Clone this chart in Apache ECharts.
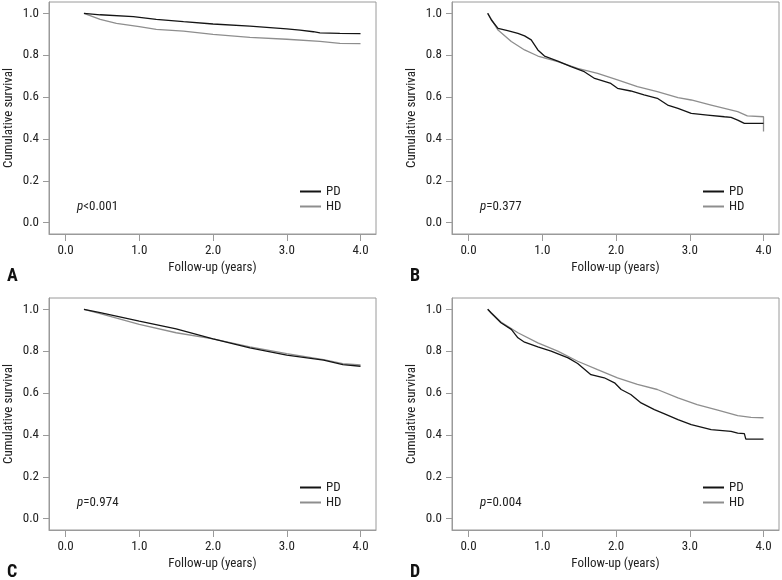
<!DOCTYPE html>
<html>
<head>
<meta charset="utf-8">
<script src="https://cdn.jsdelivr.net/npm/echarts@6/dist/echarts.min.js"></script>
<style>
html,body{margin:0;padding:0;background:#fff;}
#chart{width:782px;height:580px;}
</style>
</head>
<body>
<div id="chart"></div>
<script>
// ---------- data ----------
var yTicks = [0, 0.2, 0.4, 0.6, 0.8, 1.0];
var xTicks = [0, 1, 2, 3, 4];
var groups = ['PD', 'HD'];
var panelLetters = ['A', 'B', 'C', 'D'];
var pTexts = ['<0.001', '=0.377', '=0.974', '=0.004'];

// Panel A
var aPdTime = [0.25, 0.47, 0.92, 1.23, 1.6, 2.0, 2.5, 3.0, 3.18, 3.36, 3.45, 3.72, 4.0];
var aPdSurv = [1.0, 0.993, 0.984, 0.971, 0.96, 0.949, 0.939, 0.926, 0.92, 0.912, 0.907, 0.904, 0.903];
var aHdTime = [0.25, 0.47, 0.69, 1.0, 1.23, 1.6, 2.0, 2.5, 3.0, 3.45, 3.72, 4.0];
var aHdSurv = [1.0, 0.971, 0.952, 0.936, 0.923, 0.915, 0.899, 0.885, 0.876, 0.866, 0.856, 0.855];

// Panel B
var bPdTime = [0.26, 0.31, 0.40, 0.53, 0.67, 0.76, 0.85, 0.94, 1.03, 1.21, 1.39, 1.57, 1.71, 1.93, 2.02, 2.2, 2.38, 2.56, 2.7, 2.84, 3.02, 3.24, 3.47, 3.56, 3.65, 3.74, 4.0];
var bPdSurv = [1.0, 0.968, 0.928, 0.917, 0.904, 0.892, 0.873, 0.825, 0.796, 0.772, 0.745, 0.721, 0.689, 0.665, 0.642, 0.629, 0.61, 0.594, 0.562, 0.546, 0.522, 0.514, 0.506, 0.503, 0.49, 0.474, 0.474];
var bHdTime = [0.26, 0.40, 0.58, 0.76, 0.94, 1.21, 1.48, 1.75, 2.02, 2.29, 2.56, 2.84, 3.02, 3.29, 3.47, 3.65, 3.78, 4.0, 4.0];
var bHdSurv = [1.0, 0.92, 0.865, 0.825, 0.796, 0.769, 0.737, 0.713, 0.682, 0.65, 0.626, 0.597, 0.586, 0.562, 0.546, 0.53, 0.51, 0.506, 0.435];

// Panel C
var cPdTime = [0.25, 0.47, 1.0, 1.5, 2.0, 2.5, 3.0, 3.5, 3.76, 4.0];
var cPdSurv = [1.0, 0.984, 0.944, 0.907, 0.859, 0.816, 0.781, 0.757, 0.736, 0.728];
var cHdTime = [0.25, 0.47, 1.0, 1.5, 2.0, 2.5, 3.0, 3.5, 3.76, 4.0];
var cHdSurv = [1.0, 0.979, 0.928, 0.888, 0.859, 0.821, 0.788, 0.760, 0.741, 0.735];

// Panel D
var dPdTime = [0.26, 0.31, 0.44, 0.58, 0.67, 0.76, 0.94, 1.12, 1.35, 1.48, 1.66, 1.84, 1.98, 2.07, 2.2, 2.34, 2.52, 2.65, 2.84, 3.02, 3.29, 3.56, 3.65, 3.74, 3.76, 4.0];
var dPdSurv = [1.0, 0.981, 0.936, 0.904, 0.864, 0.843, 0.821, 0.8, 0.768, 0.741, 0.688, 0.673, 0.649, 0.617, 0.593, 0.553, 0.521, 0.502, 0.473, 0.449, 0.425, 0.417, 0.409, 0.406, 0.380, 0.380];
var dHdTime = [0.26, 0.44, 0.67, 0.94, 1.21, 1.48, 1.75, 2.02, 2.29, 2.56, 2.84, 3.1, 3.38, 3.65, 3.83, 4.0];
var dHdSurv = [1.0, 0.939, 0.888, 0.840, 0.80, 0.752, 0.712, 0.673, 0.641, 0.617, 0.577, 0.545, 0.518, 0.492, 0.484, 0.482];

// ---------- build ----------
var panels = [
  {pd: [aPdTime, aPdSurv], hd: [aHdTime, aHdSurv]},
  {pd: [bPdTime, bPdSurv], hd: [bHdTime, bHdSurv]},
  {pd: [cPdTime, cPdSurv], hd: [cHdTime, cHdSurv]},
  {pd: [dPdTime, dPdSurv], hd: [dHdTime, dHdSurv]}
];
function pairs(t, s) { return t.map(function (v, i) { return [v, s[i]]; }); }

var FONT = '"Liberation Sans Narrow", "Roboto Condensed", Roboto, sans-serif';
var FS = 13;
var frameColor = '#9a9a9a';
var textColor = '#222';
var pdColor = '#141414';
var hdColor = '#8e8e8e';

var layout = [
  {left: 49, top: 2},
  {left: 452, top: 2},
  {left: 49, top: 298},
  {left: 452, top: 298}
];
var W = 327, H = 232;

var grids = [], xAxes = [], yAxes = [], series = [], legends = [], graphics = [];
layout.forEach(function (L, i) {
  grids.push({left: L.left, top: L.top, width: W, height: H, show: true,
    borderColor: frameColor, borderWidth: 1, backgroundColor: 'transparent'});
  xAxes.push({
    type: 'value', gridIndex: i, min: -0.224, max: 4.21,
    name: 'Follow-up (years)', nameLocation: 'middle', nameGap: 27,
    nameTextStyle: {fontFamily: FONT, fontSize: FS, color: textColor},
    axisLine: {show: true, onZero: false, lineStyle: {color: frameColor, width: 1}},
    axisTick: {show: true, length: 7, customValues: xTicks, lineStyle: {color: frameColor}},
    axisLabel: {customValues: xTicks, margin: 10, fontFamily: FONT, fontSize: FS, color: textColor,
      formatter: function (v) { return v.toFixed(1); }},
    splitLine: {show: false}
  });
  yAxes.push({
    type: 'value', gridIndex: i, min: -0.054, max: 1.054,
    name: 'Cumulative survival', nameLocation: 'middle', nameGap: 34, nameRotate: 90,
    nameTextStyle: {fontFamily: FONT, fontSize: FS, color: textColor},
    axisLine: {show: true, onZero: false, lineStyle: {color: frameColor, width: 1}},
    axisTick: {show: true, length: 6, customValues: yTicks, lineStyle: {color: frameColor}},
    axisLabel: {customValues: yTicks, margin: 10, fontFamily: FONT, fontSize: FS, color: textColor,
      formatter: function (v) { return v.toFixed(1); }},
    splitLine: {show: false}
  });
  var p = panels[i];
  series.push({
    name: groups[0], type: 'line', xAxisIndex: i, yAxisIndex: i,
    data: pairs(p.pd[0], p.pd[1]), showSymbol: false, symbol: 'none',
    lineStyle: {color: pdColor, width: 1.3}, itemStyle: {color: pdColor},
    animation: false, z: 3
  });
  series.push({
    name: groups[1], type: 'line', xAxisIndex: i, yAxisIndex: i,
    data: pairs(p.hd[0], p.hd[1]), showSymbol: false, symbol: 'none',
    lineStyle: {color: hdColor, width: 1.3}, itemStyle: {color: hdColor},
    animation: false, z: 2
  });
  legends.push({
    data: groups, orient: 'vertical', left: L.left + 251, top: L.top + 182,
    icon: 'rect', itemWidth: 21, itemHeight: 2, itemGap: 0, itemStyle: {borderWidth: 0}, selectedMode: false,
    textStyle: {fontFamily: FONT, fontSize: FS, color: textColor, lineHeight: 15}, padding: 0
  });
  graphics.push({
    type: 'text', left: L.left + 28, top: L.top + 198, silent: true,
    style: {
      text: '{i|p}{n|' + pTexts[i] + '}',
      rich: {
        i: {fontFamily: FONT, fontSize: FS, fontStyle: 'italic', fill: textColor},
        n: {fontFamily: FONT, fontSize: FS, fill: textColor}
      }
    }
  });
  graphics.push({
    type: 'text', left: L.left - 42, top: L.top + 265, silent: true,
    style: {text: panelLetters[i], fontFamily: FONT, fontSize: 18, fontWeight: 'bold', fill: '#111'}
  });
});

var chart = echarts.init(document.getElementById('chart'), null, {renderer: 'canvas'});
chart.setOption({
  animation: false,
  backgroundColor: '#fff',
  grid: grids, xAxis: xAxes, yAxis: yAxes, series: series,
  legend: legends, graphic: graphics
});
</script>
</body>
</html>
